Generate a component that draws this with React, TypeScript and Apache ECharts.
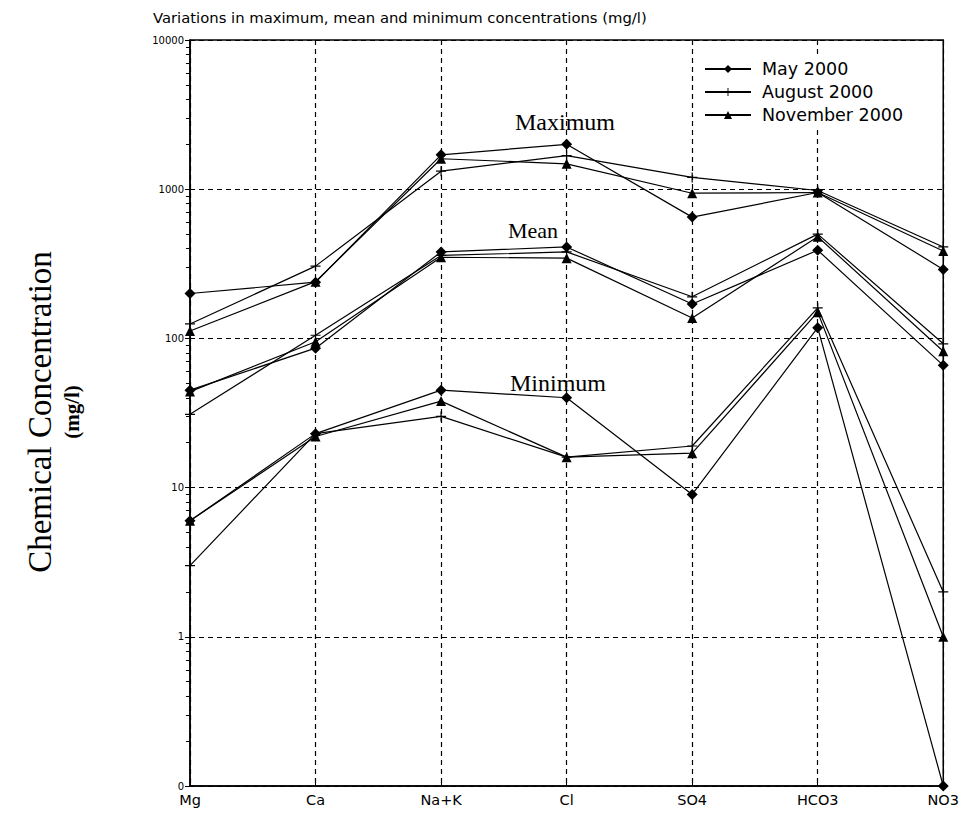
import React, { useEffect, useRef } from "react";
import * as echarts from "echarts";

const categories = ["Mg", "Ca", "Na+K", "Cl", "SO4", "HCO3", "NO3"];
const periods = ["May 2000", "August 2000", "November 2000"];

// Maximum concentrations (mg/l)
const maxMay = [200, 238, 1700, 2000, 650, 950, 290];
const maxAug = [125, 305, 1320, 1680, 1200, 980, 410];
const maxNov = [112, 240, 1600, 1480, 940, 950, 385];

// Mean concentrations (mg/l)
const meanMay = [45, 86, 380, 410, 170, 390, 66];
const meanAug = [31, 105, 360, 380, 190, 500, 92];
const meanNov = [44, 95, 350, 345, 137, 480, 82];

// Minimum concentrations (mg/l); 0.1 is the axis floor, labelled "0"
const minMay = [6, 23, 45, 40, 9, 118, 0.1];
const minAug = [3, 23, 30, 16, 19, 160, 2];
const minNov = [6, 22, 38, 16, 17, 150, 1];

const decades = [0.1, 1, 10, 100, 1000];
const minorMultipliers = [2, 3, 4, 5, 6, 7, 8, 9];

const symbols: Record<string, string> = {
  "May 2000": "diamond",
  "August 2000": "path://M4.4,0H5.6V4.4H10V5.6H5.6V10H4.4V5.6H0V4.4H4.4Z",
  "November 2000": "triangle",
};
const symbolSizes: Record<string, number> = {
  "May 2000": 11,
  "August 2000": 10,
  "November 2000": 10,
};

export default function App() {
  const ref = useRef<HTMLDivElement>(null);
  useEffect(() => {
    if (!ref.current) return;
    const chart = echarts.init(ref.current, null, { renderer: "svg" });
    const groups: [string, number[]][] = [
      ["May 2000", maxMay],
      ["August 2000", maxAug],
      ["November 2000", maxNov],
      ["May 2000", meanMay],
      ["August 2000", meanAug],
      ["November 2000", meanNov],
      ["May 2000", minMay],
      ["August 2000", minAug],
      ["November 2000", minNov],
    ];
    const lineSeries = groups.map(([name, data]) => ({
      name,
      type: "line",
      data,
      yAxisIndex: 0,
      symbol: symbols[name],
      symbolSize: symbolSizes[name],
      showAllSymbol: true,
      lineStyle: { color: "#000", width: 1.2 },
      itemStyle: { color: "#000" },
      z: 5,
    }));
    // minor tick positions expressed as exponents on a linear helper axis
    const minorExponents: number[] = [];
    decades.forEach((d) =>
      minorMultipliers.forEach((m) => minorExponents.push(Math.log10(d * m)))
    );

    chart.setOption({
      animation: false,
      backgroundColor: "#fff",
      title: {
        text: "Variations in maximum, mean and minimum concentrations (mg/l)",
        left: 148,
        top: 5,
        textStyle: {
          fontFamily: "DejaVu Sans",
          fontSize: 14.8,
          fontWeight: "normal",
          color: "#000",
        },
      },
      legend: {
        data: periods,
        orient: "vertical",
        left: 700,
        top: 56,
        itemWidth: 46,
        itemHeight: 10,
        itemGap: 5,
        backgroundColor: "#fff",
        padding: [4, 8, 4, 4],
        textStyle: {
          fontFamily: "DejaVu Sans",
          fontSize: 17.5,
          color: "#000",
          padding: [0, 0, 0, 6],
        },
      },
      grid: {
        left: 190,
        right: 17,
        top: 40,
        bottom: 33,
        show: true,
        borderColor: "#000",
        borderWidth: 1.5,
      },
      xAxis: {
        type: "category",
        data: categories,
        boundaryGap: false,
        axisLine: { onZero: false, lineStyle: { color: "#000", width: 1.5 } },
        axisTick: { show: true, inside: true, length: 4, lineStyle: { color: "#000" } },
        axisLabel: {
          fontFamily: "DejaVu Sans",
          fontSize: 14.5,
          color: "#000",
          margin: 6,
          interval: 0,
        },
        splitLine: {
          show: true,
          interval: 0,
          lineStyle: { color: "#000", type: [5, 4], width: 1.2 },
        },
      },
      yAxis: [
        {
          type: "log",
          logBase: 10,
          min: 0.1,
          max: 10000,
          splitNumber: 5,
          axisLine: { show: true, lineStyle: { color: "#000", width: 1.5 } },
          axisTick: { show: true, length: 5, lineStyle: { color: "#000" } },
          axisLabel: {
            fontFamily: "DejaVu Sans",
            fontSize: 10,
            color: "#000",
            margin: 6,
            formatter: (v: number) => (v < 1 ? "0" : String(Math.round(v))),
          },
          splitLine: {
            show: true,
            lineStyle: { color: "#000", type: [5, 4], width: 1.2 },
          },
        },
        {
          type: "value",
          min: -1,
          max: 4,
          position: "left",
          axisLine: { show: false, onZero: false },
          axisLabel: { show: false },
          splitLine: { show: false },
          axisTick: {
            show: true,
            length: 4,
            customValues: minorExponents,
            lineStyle: { color: "#000", width: 1 },
          },
        },
      ],
      graphic: [
        {
          type: "text",
          style: {
            text: "Chemical Concentration",
            fontFamily: "Liberation Serif",
            fontSize: 33,
            fill: "#000",
            align: "center",
            verticalAlign: "middle",
          },
          x: 40,
          y: 412,
          rotation: Math.PI / 2,
        },
        {
          type: "text",
          style: {
            text: "(mg/l)",
            fontFamily: "Liberation Serif",
            fontWeight: "bold",
            fontSize: 21,
            fill: "#000",
            align: "center",
            verticalAlign: "middle",
          },
          x: 72,
          y: 412,
          rotation: Math.PI / 2,
        },
        {
          type: "text",
          style: {
            text: "Maximum",
            fontFamily: "Liberation Serif",
            fontSize: 24,
            fill: "#000",
            align: "center",
            verticalAlign: "middle",
          },
          x: 565,
          y: 122,
          z: 10,
        },
        {
          type: "text",
          style: {
            text: "Mean",
            fontFamily: "Liberation Serif",
            fontSize: 22,
            fill: "#000",
            align: "center",
            verticalAlign: "middle",
          },
          x: 533,
          y: 230,
          z: 10,
        },
        {
          type: "text",
          style: {
            text: "Minimum",
            fontFamily: "Liberation Serif",
            fontSize: 24,
            fill: "#000",
            align: "center",
            verticalAlign: "middle",
          },
          x: 558,
          y: 383,
          z: 10,
        },
      ],
      series: lineSeries,
    });
    return () => chart.dispose();
  }, []);
  return (
    <div
      ref={ref}
      style={{ position: "fixed", left: 0, top: 0, width: 962, height: 819 }}
    />
  );
}
